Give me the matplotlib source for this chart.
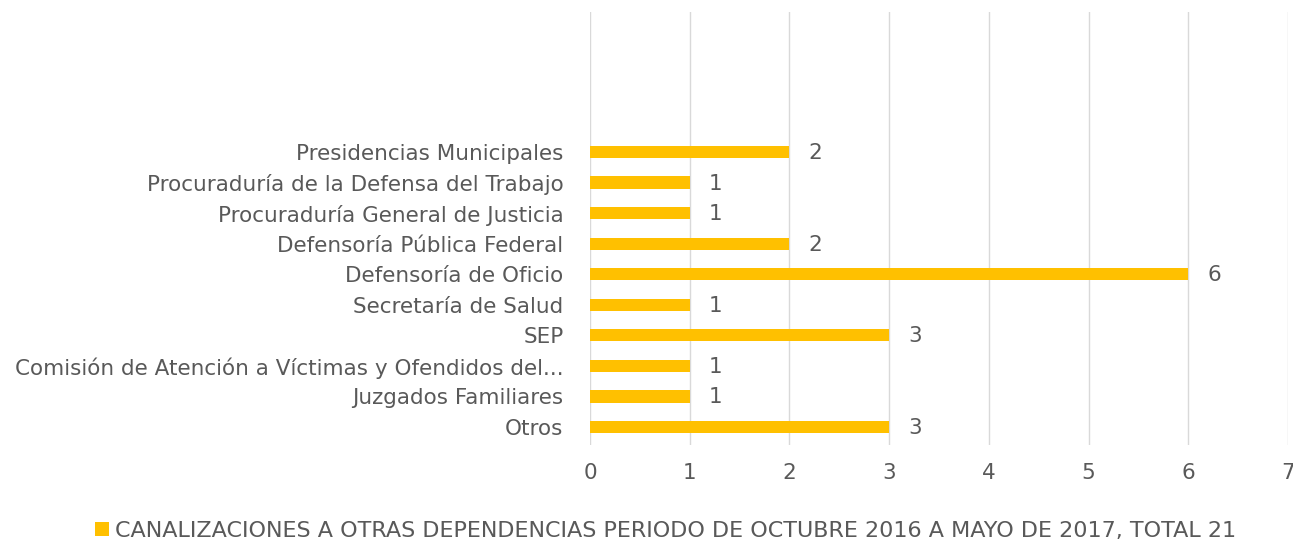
import matplotlib
matplotlib.use("Agg")
import matplotlib.pyplot as plt

categorias = ["Otros", "Juzgados Familiares",
              "Comisión de Atención a Víctimas y Ofendidos del...",
              "SEP", "Secretaría de Salud", "Defensoría de Oficio",
              "Defensoría Pública Federal", "Procuraduría General de Justicia",
              "Procuraduría de la Defensa del Trabajo", "Presidencias Municipales"]
valores = [3, 1, 1, 3, 1, 6, 2, 1, 1, 2]
xticks = [0, 1, 2, 3, 4, 5, 6, 7]
serie = "CANALIZACIONES A OTRAS DEPENDENCIAS PERIODO DE OCTUBRE 2016 A MAYO DE 2017, TOTAL 21"

gris = "#595959"
amarillo = "#FFC000"
plt.rcParams["font.family"] = ["DejaVu Sans"]

fig = plt.figure(figsize=(12.93, 5.42), dpi=100)
ax = fig.add_axes([590 / 1293, 1 - 445 / 542, 698 / 1293, 433 / 542])

pos = list(range(len(categorias)))
bars = ax.barh(pos, valores, height=0.4, color=amarillo, zorder=3, label=serie)

for p, v in zip(pos, valores):
    ax.annotate(str(v), (v, p), xytext=(26, -1), textcoords="offset pixels",
                ha="center", va="center", fontsize=15.5, color=gris)

ax.set_xlim(0, 7)
ax.set_ylim(-0.59, 13.58)
ax.set_xticks(xticks)
ax.set_xticklabels([str(t) for t in xticks])
ax.set_yticks(pos)
ax.set_yticklabels(categorias)
ax.tick_params(axis="both", length=0, colors=gris, labelsize=15.5)
ax.tick_params(axis="y", pad=19)
ax.tick_params(axis="x", pad=13)
ax.grid(axis="x", color="#D9D9D9", linewidth=1, zorder=0)
for s in ax.spines.values():
    s.set_visible(False)

leg = fig.legend(handles=[bars], labels=[serie], loc="center",
                 bbox_to_anchor=(666 / 1293, 1 - 531 / 542), frameon=False,
                 handlelength=0.6, handleheight=0.6, handletextpad=0.3,
                 prop={"family": "Liberation Sans Narrow", "size": 16})
for t in leg.get_texts():
    t.set_color(gris)

fig.savefig("out.png", dpi=100)
